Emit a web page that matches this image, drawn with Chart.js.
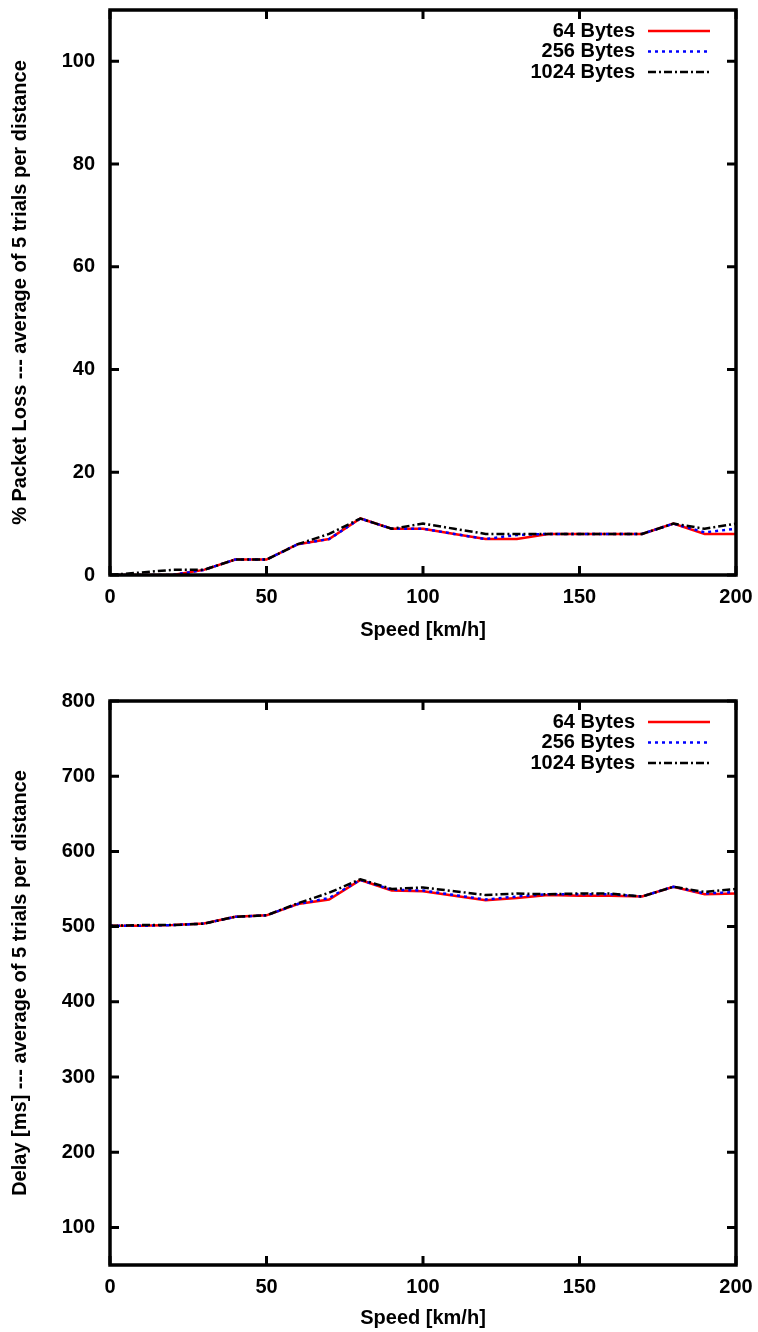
<!DOCTYPE html>
<html>
<head>
<meta charset="utf-8">
<title>Packet loss and delay vs speed</title>
<script src="https://cdn.jsdelivr.net/npm/chart.js@4.4.1/dist/chart.umd.min.js"></script>
<style>
  html, body { margin: 0; padding: 0; background: #fff; }
  canvas { display: block; }
</style>
</head>
<body>
<canvas id="chartLoss" width="758" height="664"></canvas>
<canvas id="chartDelay" width="758" height="668"></canvas>
<script>
/* global Chart */

// speed in km/h (x axis, both plots)
const speeds = [0, 10, 20, 30, 40, 50, 60, 70, 80, 90, 100, 110, 120, 130, 140, 150, 160, 170, 180, 190, 200];
const seriesLabels = ["64 Bytes", "256 Bytes", "1024 Bytes"];

// % packet loss
const loss64 = [0, 0, 0, 1, 3, 3, 6, 7, 11, 9, 9, 8, 7, 7, 8, 8, 8, 8, 10, 8, 8];
const loss256 = [0, 0, 0, 1, 3, 3, 6, 7, 11, 9, 9, 8, 7, 7.8, 8, 8, 8, 8, 10, 8.3, 9];
const loss1024 = [0, 0.5, 1, 1, 3, 3, 6, 8, 11, 9, 10, 9, 8, 8, 8, 8, 8, 8, 10, 9, 10];

// delay in ms
const delay64 = [501, 501, 502, 504, 513, 515, 530, 536, 562, 548, 547, 541, 535, 538, 542, 541, 541, 540, 553, 543, 544];
const delay256 = [501, 501, 502, 504, 513, 515, 530, 538, 562, 549, 548, 542, 536, 540, 543, 543, 543, 540, 553, 544, 546];
const delay1024 = [501, 502, 502, 504, 513, 515, 531, 545, 563, 550, 552, 547, 542, 544, 543, 544, 544, 540, 553, 546, 550];

const FONT = { family: "'Liberation Sans', Arial, Helvetica, sans-serif", size: 20, weight: "bold" };

const lineStyles = [
  { color: "#ff0000", dash: [], order: 3 },
  { color: "#0000ff", dash: [3, 4], order: 2 },
  { color: "#000000", dash: [8, 3, 2, 3], order: 1 },
];

function makeDatasets(seriesList) {
  return seriesList.map((vals, i) => ({
    label: seriesLabels[i],
    data: speeds.map((s, k) => ({ x: s, y: vals[k] })),
    borderColor: lineStyles[i].color,
    borderDash: lineStyles[i].dash,
    borderWidth: 2.5,
    pointRadius: 0,
    tension: 0,
    fill: false,
    order: lineStyles[i].order,
  }));
}

// no automatic padding from the axes, layout.padding decides
function noPadding(scale) {
  scale.paddingLeft = 0;
  scale.paddingRight = 0;
  scale.paddingTop = 0;
  scale.paddingBottom = 0;
}

// gnuplot-like frame: thick box + ticks pointing inwards on all 4 sides + legend top right
const framePlugin = {
  id: "frame",
  afterDatasetsDraw(chart) {
    const { ctx, chartArea: a, scales } = chart;
    const tl = 9;
    ctx.save();
    ctx.strokeStyle = "#000";
    ctx.lineWidth = 3;
    ctx.beginPath();
    scales.x.ticks.forEach((t) => {
      const px = scales.x.getPixelForValue(t.value);
      ctx.moveTo(px, a.bottom); ctx.lineTo(px, a.bottom - tl);
      ctx.moveTo(px, a.top); ctx.lineTo(px, a.top + tl);
    });
    scales.y.ticks.forEach((t) => {
      const py = scales.y.getPixelForValue(t.value);
      ctx.moveTo(a.left, py); ctx.lineTo(a.left + tl, py);
      ctx.moveTo(a.right, py); ctx.lineTo(a.right - tl, py);
    });
    ctx.stroke();

    ctx.lineWidth = 3.5;
    ctx.strokeRect(a.left, a.top, a.right - a.left, a.bottom - a.top);

    // legend
    ctx.font = `${FONT.weight} ${FONT.size}px ${FONT.family}`;
    ctx.textAlign = "right";
    ctx.textBaseline = "middle";
    ctx.fillStyle = "#000";
    chart.data.datasets.forEach((ds, i) => {
      const y = a.top + 21 + i * 20.5;
      ctx.fillText(ds.label, 635, y);
      ctx.beginPath();
      ctx.setLineDash(ds.borderDash);
      ctx.strokeStyle = ds.borderColor;
      ctx.lineWidth = 2.5;
      ctx.moveTo(648, y);
      ctx.lineTo(710, y);
      ctx.stroke();
      ctx.setLineDash([]);
    });
    ctx.restore();
  },
};

function makeChart(canvasId, seriesList, opts) {
  const canvas = document.getElementById(canvasId);
  return new Chart(canvas, {
    type: "line",
    data: { datasets: makeDatasets(seriesList) },
    options: {
      responsive: false,
      animation: false,
      devicePixelRatio: 1,
      layout: { padding: { left: 0, right: 22, top: opts.top, bottom: 0 } },
      plugins: { legend: { display: false }, tooltip: { enabled: false } },
      scales: {
        x: {
          type: "linear",
          min: 0,
          max: 200,
          ticks: { stepSize: 50, color: "#000", font: FONT, padding: 10, maxRotation: 0 },
          grid: { drawOnChartArea: false, drawTicks: false },
          border: { display: false },
          title: { display: true, text: "Speed [km/h]", color: "#000", font: FONT, padding: { top: 0, bottom: opts.titleBottom } },
          afterFit: (scale) => {
            scale.height = canvas.height - opts.bottom;
            noPadding(scale);
          },
        },
        y: {
          min: opts.ymin,
          max: opts.ymax,
          ticks: { stepSize: opts.step, includeBounds: false, color: "#000", font: FONT, padding: 15 },
          grid: { drawOnChartArea: false, drawTicks: false },
          border: { display: false },
          title: { display: true, text: opts.ytitle, color: "#000", font: FONT, padding: { top: 8, bottom: 0 } },
          afterBuildTicks: (scale) => {
            scale.ticks = scale.ticks.filter((t) => t.value % opts.step === 0);
          },
          afterFit: (scale) => {
            scale.width = 110;
            noPadding(scale);
          },
        },
      },
    },
    plugins: [framePlugin],
  });
}

makeChart("chartLoss", [loss64, loss256, loss1024], {
  top: 10, bottom: 575, titleBottom: 22,
  ymin: 0, ymax: 110, step: 20,
  ytitle: "% Packet Loss --- average of 5 trials per distance",
});

makeChart("chartDelay", [delay64, delay256, delay1024], {
  top: 37, bottom: 601, titleBottom: 2,
  ymin: 50, ymax: 800, step: 100,
  ytitle: "Delay [ms] --- average of 5 trials per distance",
});
</script>
</body>
</html>
